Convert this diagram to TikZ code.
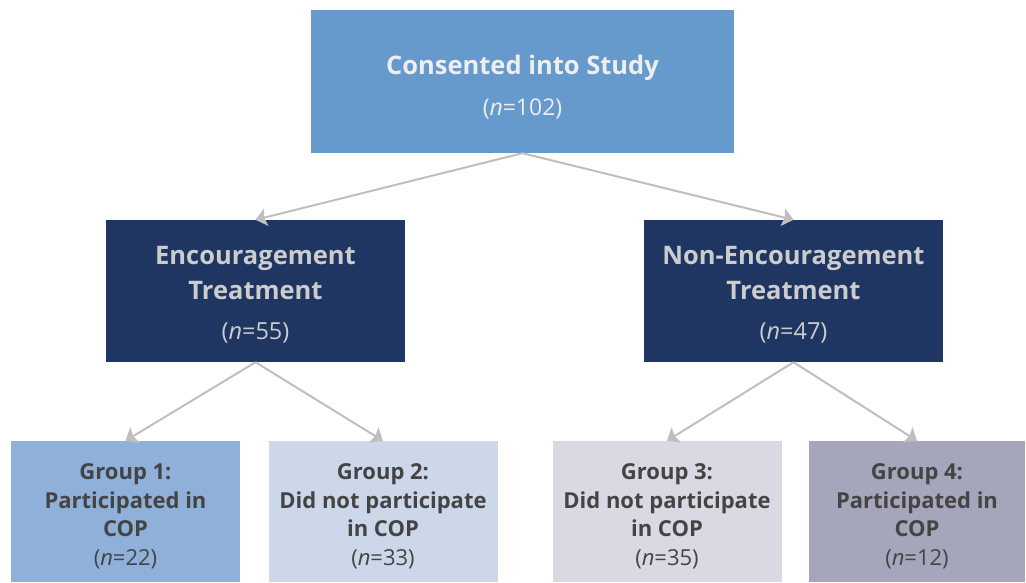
\documentclass[tikz,border=0pt]{standalone}
\usepackage{fontspec}
\setmainfont{Open Sans}
\usetikzlibrary{arrows.meta,positioning}
\definecolor{studyblue}{RGB}{102,153,204}
\definecolor{armnavy}{RGB}{31,54,99}
\definecolor{grpone}{RGB}{143,176,216}
\definecolor{grptwo}{RGB}{204,216,234}
\definecolor{grpthree}{RGB}{218,217,227}
\definecolor{grpfour}{RGB}{165,165,188}
\definecolor{grptext}{RGB}{68,68,68}
\definecolor{linkgray}{RGB}{191,191,191}

\begin{document}
\begin{tikzpicture}[x=1pt,y=-1pt,
          box/.style={inner sep=0pt,align=center},
          grp/.style={box,minimum width=229pt,minimum height=141pt,
                      text=grptext,font=\fontsize{22}{28.5}\selectfont},
          link/.style={-{Stealth[length=11pt,width=18pt,inset=2pt]},
                       line width=2pt,draw=linkgray}]
        \useasboundingbox (0,0) rectangle (1026,582);
        % top level
        \node[box,fill=studyblue,minimum width=423pt,minimum height=143pt,
              text={rgb,255:red,238;green,238;blue,238},
              font=\fontsize{25.5}{41}\selectfont] (study) at (522.5,81.5)
          {\rule{0pt}{30pt}\textbf{Consented into Study}\\
           {\fontsize{23}{26}\selectfont(\textit{n}=102)}};
        % two arms
        \node[box,fill=armnavy,minimum width=299pt,minimum height=142pt,
              text={rgb,255:red,204;green,204;blue,204},
              font=\fontsize{25.5}{35}\selectfont] (enc) at (255.5,291)
          {\rule{0pt}{26pt}\textbf{Encouragement}\\\textbf{Treatment}\\[5pt]
           {\fontsize{23.5}{26}\selectfont(\textit{n}=55)}};
        \node[box,fill=armnavy,minimum width=299pt,minimum height=142pt,
              text={rgb,255:red,204;green,204;blue,204},
              font=\fontsize{25.5}{35}\selectfont] (nonenc) at (793.5,291)
          {\rule{0pt}{26pt}\textbf{Non-Encouragement}\\\textbf{Treatment}\\[5pt]
           {\fontsize{23.5}{26}\selectfont(\textit{n}=47)}};
        % four groups
        \node[grp,fill=grpone] (g1) at (125.5,511.5)
          {\rule{0pt}{25.5pt}\textbf{Group 1:}\\\textbf{Participated in}\\\textbf{COP}\\(\textit{n}=22)};
        \node[grp,fill=grptwo] (g2) at (383,511.5)
          {\rule{0pt}{25.5pt}\textbf{Group 2:}\\\textbf{Did not participate}\\\textbf{in COP}\\(\textit{n}=33)};
        \node[grp,fill=grpthree] (g3) at (667,511.5)
          {\rule{0pt}{25.5pt}\textbf{Group 3:}\\\textbf{Did not participate}\\\textbf{in COP}\\(\textit{n}=35)};
        \node[grp,fill=grpfour,minimum width=216pt] (g4) at (917,511.5)
          {\rule{0pt}{25.5pt}\textbf{Group 4:}\\\textbf{Participated in}\\\textbf{COP}\\(\textit{n}=12)};
        % arrows
        \draw[link] (study.south) -- (enc.north);
        \draw[link] (study.south) -- (nonenc.north);
        \draw[link] (enc.south) -- (g1.north);
        \draw[link] (enc.south) -- (g2.north);
        \draw[link] (nonenc.south) -- (g3.north);
        \draw[link] (nonenc.south) -- (g4.north);
      \end{tikzpicture}
\end{document}
